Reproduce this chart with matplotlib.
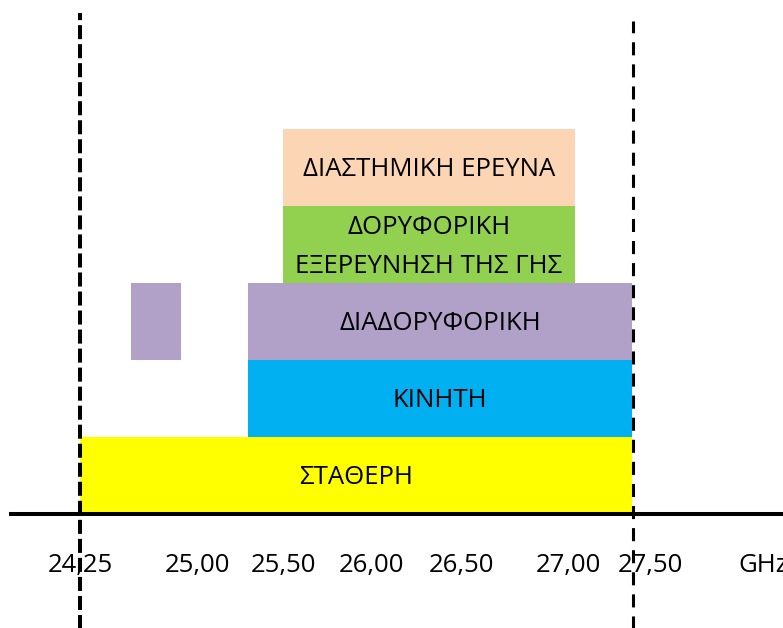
import numpy as np
import matplotlib
matplotlib.use('Agg')
import matplotlib.pyplot as plt
from matplotlib.transforms import offset_copy, blended_transform_factory

plt.rcParams['font.family'] = ['Open Sans', 'DejaVu Sans']
plt.rcParams['lines.scale_dashes'] = False

# services stacked from the bottom row upwards (GHz)
services = ['ΣΤΑΘΕΡΗ', 'ΚΙΝΗΤΗ', 'ΔΙΑΔΟΡΥΦΟΡΙΚΗ',
            'ΔΟΡΥΦΟΡΙΚΗ\nΕΞΕΡΕΥΝΗΣΗ ΤΗΣ ΓΗΣ', 'ΔΙΑΣΤΗΜΙΚΗ ΕΡΕΥΝΑ']
band_start = [24.25, 25.25, 25.25, 25.50, 25.50]
band_end = [27.50, 27.50, 27.50, 27.00, 27.00]
colors = ['#FFFF00', '#00B0F0', '#B1A0C7', '#92D050', '#FCD5B4']

# second, narrow inter-satellite band
iss_start, iss_end = 24.45, 24.75

tick_freqs = [24.25, 25.00, 25.50, 26.00, 26.50, 27.00, 27.50]
tick_labels = ['24,25', '25,00', '25,50', '26,00', '26,50', '27,00', '27,50']

# the frequency axis is not to scale: breakpoints -> horizontal position
brk_f = [24.0, 24.25, 24.45, 24.75, 25.0, 25.25, 25.5, 26.0, 26.5, 27.0, 27.5, 28.1]
brk_x = [0, 80, 131, 181, 197, 248, 283, 372, 462, 575, 632, 783]


def fwd(f):
    return np.interp(f, brk_f, brk_x)


def inv(x):
    return np.interp(x, brk_x, brk_f)


fig = plt.figure(figsize=(7.83, 6.28), dpi=100)
ax = fig.add_axes([0, 0, 1, 1])
ax.set_xscale('function', functions=(fwd, inv))
ax.set_xlim(brk_f[0], brk_f[-1])
ax.set_ylim(-1.48, 6.675)
ax.axis('off')

fs = 18.5
for i, (name, s, e, c) in enumerate(zip(services, band_start, band_end, colors)):
    ax.barh(i + 0.5, e - s, left=s, height=1.0, color=c, linewidth=0, zorder=1)
    xm = inv((fwd(s) + fwd(e)) / 2)
    ax.text(xm, i + 0.47, name, ha='center', va='center', fontsize=fs,
            linespacing=1.75, zorder=3)

ax.barh(2.5, iss_end - iss_start, left=iss_start, height=1.0,
        color=colors[2], linewidth=0, zorder=1)

# frequency axis
ax.axhline(0, xmin=11 / 783, xmax=1, color='black', lw=2.9, zorder=4)

# band limits
ax.plot([24.25, 24.25], [-1.5, 6.506], color='black', lw=2.9,
        dashes=(10.1, 3.6), zorder=5)
ax.plot([27.505, 27.505], [-1.5, 6.40], color='black', lw=2.2,
        dashes=(9.4, 6.5), zorder=5)

nudge = {'27,00': -7, '27,50': 18}
for f, lab in zip(tick_freqs, tick_labels):
    tr = offset_copy(ax.transData, fig=fig, x=nudge.get(lab, 0), y=0, units='dots')
    ax.text(f, -0.67, lab, ha='center', va='center', fontsize=fs,
            transform=tr, zorder=6)
ax.text(738 / 783, -0.67, 'GHz', ha='left', va='center', fontsize=fs,
        transform=blended_transform_factory(ax.transAxes, ax.transData))

fig.savefig('out.png', dpi=100)
